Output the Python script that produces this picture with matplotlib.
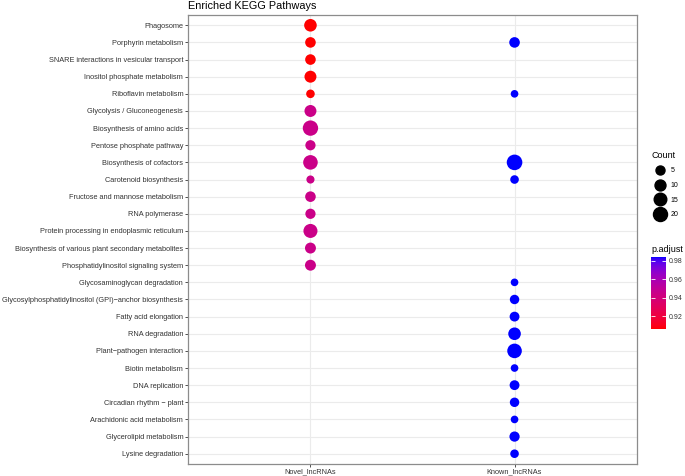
import numpy as np
import matplotlib
matplotlib.use('Agg')
import matplotlib.pyplot as plt
from matplotlib.colors import ListedColormap, Normalize
from matplotlib.lines import Line2D

plt.rcParams['font.family'] = ['Liberation Sans', 'DejaVu Sans']

# y axis order, top to bottom
pathways = [
    'Phagosome', 'Porphyrin metabolism', 'SNARE interactions in vesicular transport',
    'Inositol phosphate metabolism', 'Riboflavin metabolism', 'Glycolysis / Gluconeogenesis',
    'Biosynthesis of amino acids', 'Pentose phosphate pathway', 'Biosynthesis of cofactors',
    'Carotenoid biosynthesis', 'Fructose and mannose metabolism', 'RNA polymerase',
    'Protein processing in endoplasmic reticulum',
    'Biosynthesis of various plant secondary metabolites',
    'Phosphatidylinositol signaling system', 'Glycosaminoglycan degradation',
    'Glycosylphosphatidylinositol (GPI)\u2212anchor biosynthesis', 'Fatty acid elongation',
    'RNA degradation', 'Plant\u2212pathogen interaction', 'Biotin metabolism',
    'DNA replication', 'Circadian rhythm \u2212 plant', 'Arachidonic acid metabolism',
    'Glycerolipid metabolism', 'Lysine degradation',
]
groups = ['Novel_lncRNAs', 'Known_lncRNAs']

novel_pathways = pathways[:15]
novel_count = [15, 9, 9, 13, 4, 13, 25, 8, 22, 3, 9, 8, 20, 10, 10]
novel_padj = [0.906] * 5 + [0.945] * 10

known_pathways = [
    'Porphyrin metabolism', 'Riboflavin metabolism', 'Biosynthesis of cofactors',
    'Carotenoid biosynthesis', 'Glycosaminoglycan degradation',
    'Glycosylphosphatidylinositol (GPI)\u2212anchor biosynthesis', 'Fatty acid elongation',
    'RNA degradation', 'Plant\u2212pathogen interaction', 'Biotin metabolism',
    'DNA replication', 'Circadian rhythm \u2212 plant', 'Arachidonic acid metabolism',
    'Glycerolipid metabolism', 'Lysine degradation',
]
known_count = [9, 2, 26, 4, 2, 6, 7, 15, 22, 2, 7, 6, 2, 8, 4]
known_padj = [0.984] * 15

count_breaks = [5, 10, 15, 20]
padj_ticks = [0.92, 0.94, 0.96, 0.98]


# red -> blue gradient interpolated in Lab space (like ggplot)
def to_lab(rgb):
    rgb = np.asarray(rgb, dtype=float)
    c = np.where(rgb > 0.04045, ((rgb + 0.055) / 1.055) ** 2.4, rgb / 12.92)
    m = np.array([[0.4124, 0.3576, 0.1805], [0.2126, 0.7152, 0.0722], [0.0193, 0.1192, 0.9505]])
    xyz = m @ c / np.array([0.95047, 1.0, 1.08883])
    f = np.where(xyz > 0.008856, np.cbrt(xyz), 7.787 * xyz + 16 / 116)
    return np.array([116 * f[1] - 16, 500 * (f[0] - f[1]), 200 * (f[1] - f[2])])


def from_lab(lab):
    fy = (lab[0] + 16) / 116
    fx = fy + lab[1] / 500
    fz = fy - lab[2] / 200
    f = np.array([fx, fy, fz])
    xyz = np.where(f ** 3 > 0.008856, f ** 3, (f - 16 / 116) / 7.787) * np.array([0.95047, 1.0, 1.08883])
    m = np.array([[3.2406, -1.5372, -0.4986], [-0.9689, 1.8758, 0.0415], [0.0557, -0.2040, 1.0570]])
    c = m @ xyz
    rgb = np.where(c > 0.0031308, 1.055 * np.clip(c, 0, None) ** (1 / 2.4) - 0.055, 12.92 * c)
    return np.clip(rgb, 0, 1)


lab_lo, lab_hi = to_lab([1, 0, 0]), to_lab([0, 0, 1])
cmap = ListedColormap([from_lab(lab_lo + t * (lab_hi - lab_lo)) for t in np.linspace(0, 1, 256)])
norm = Normalize(vmin=min(novel_padj + known_padj), vmax=max(novel_padj + known_padj))


def marker_area(v):
    d_px = np.sqrt(43 + 7.7 * np.asarray(v, dtype=float))
    return (d_px * 0.72) ** 2


n = len(pathways)
ypos = {p: n - 1 - i for i, p in enumerate(pathways)}

fig = plt.figure(figsize=(6.85, 4.76), dpi=100)
ax = fig.add_axes([188 / 685, 1 - 464 / 476, 449 / 685, 449 / 476])

ax.scatter([0] * len(novel_pathways), [ypos[p] for p in novel_pathways],
           s=marker_area(novel_count), c=novel_padj, cmap=cmap, norm=norm,
           linewidths=0, zorder=3)
ax.scatter([1] * len(known_pathways), [ypos[p] for p in known_pathways],
           s=marker_area(known_count), c=known_padj, cmap=cmap, norm=norm,
           linewidths=0, zorder=3)

ax.set_xlim(-0.6, 1.6)
ax.set_ylim(-0.6, n - 0.4)
ax.set_xticks(range(len(groups)))
ax.set_xticklabels(groups)
ax.set_yticks([ypos[p] for p in pathways])
ax.set_yticklabels(pathways)
ax.grid(True, color='#EBEBEB', linewidth=0.8, zorder=0)
ax.set_axisbelow(True)
ax.tick_params(labelsize=5.35, colors='#333333', length=2, width=0.6, pad=1.5)
ax.tick_params(axis='x', pad=1)
for sp in ax.spines.values():
    sp.set_color('#8C8C8C')
    sp.set_linewidth(0.9)
ax.set_title('Enriched KEGG Pathways', loc='left', fontsize=7.8, pad=4)

# size legend
handles = [Line2D([], [], linestyle='none', marker='o', color='black',
                  markersize=np.sqrt(marker_area(b))) for b in count_breaks]
leg = fig.legend(handles, [str(b) for b in count_breaks], title='Count',
                 loc='upper left', bbox_to_anchor=(647 / 685, 1 - 146 / 476),
                 frameon=False, fontsize=5, title_fontsize=6.5, labelspacing=1.1,
                 handletextpad=0.5, handlelength=2.2, borderpad=0.2, alignment='left')

# colour bar
cax = fig.add_axes([651 / 685, 1 - 329 / 476, 15 / 685, 72 / 476])
cb = fig.colorbar(plt.cm.ScalarMappable(norm=norm, cmap=cmap), cax=cax)
cb.outline.set_visible(False)
cb.set_ticks(padj_ticks)
cb.set_ticklabels([f'{t:.2f}' for t in padj_ticks])
cax.yaxis.set_ticks_position('both')
cax.tick_params(direction='in', colors='white', length=3, width=0.6, labelsize=5,
                labelcolor='#333333', pad=2)
fig.text(651 / 685, 1 - 250 / 476, 'p.adjust', fontsize=6.5, va='center', ha='left')

plt.savefig('out.png', dpi=100)
